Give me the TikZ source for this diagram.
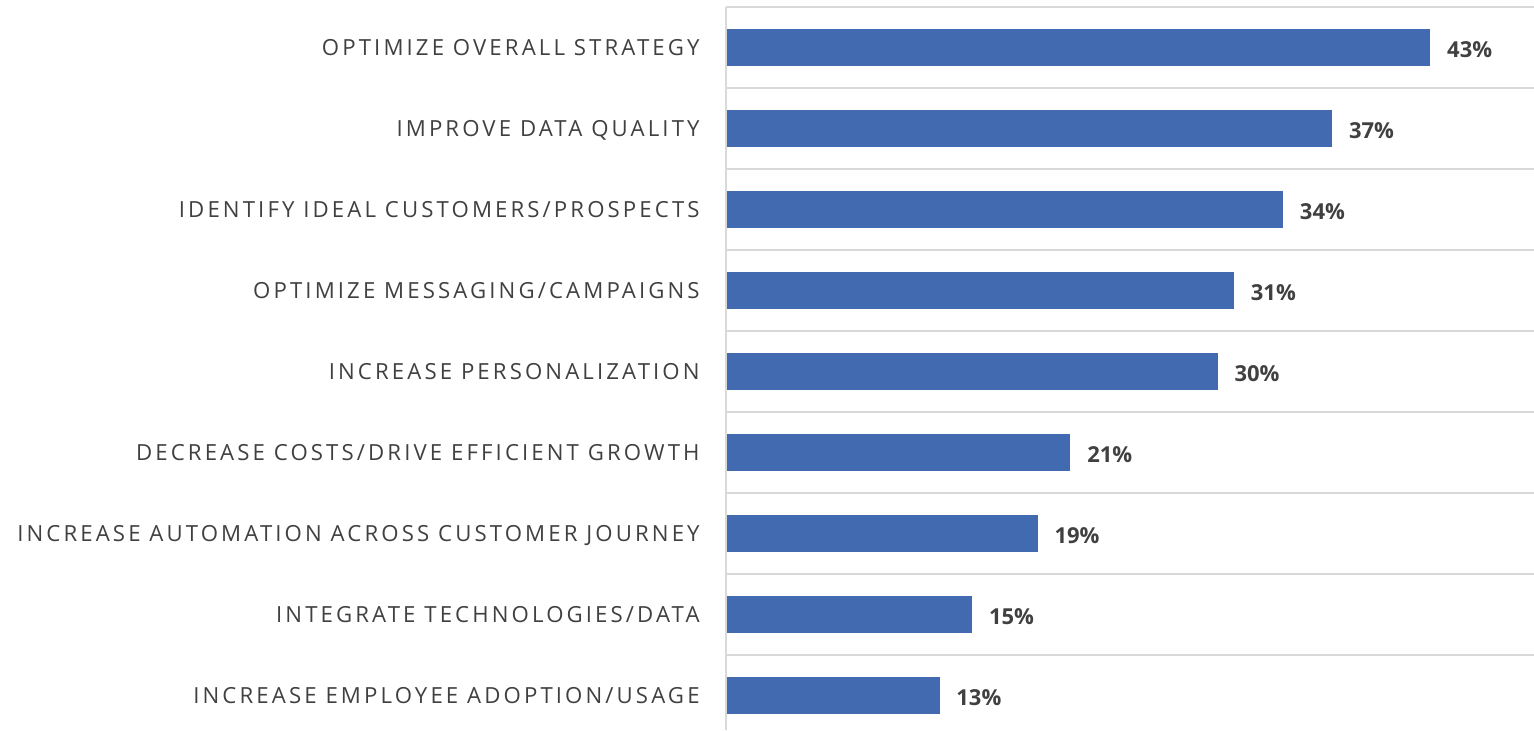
\documentclass[tikz,border=0pt]{standalone}
\usepackage{fontspec}
\setmainfont{Open Sans}
\newfontfamily\catfont[LetterSpace=14]{Open Sans}
\usetikzlibrary{positioning}
\definecolor{barblue}{HTML}{416AB1}
\definecolor{gridgray}{HTML}{D9D9D9}
\definecolor{textgray}{HTML}{404040}
\tikzset{
    bar/.style={fill=barblue, draw=none, anchor=west, minimum height=18.5pt, inner sep=0pt},
    catlabel/.style={anchor=base east, text=textgray, inner sep=0pt,
        font=\catfont\fontsize{11.1}{12}\selectfont},
    vallabel/.style={text=textgray, inner sep=0pt, text height=8pt, text depth=0pt,
        font=\bfseries\fontsize{11}{12}\selectfont},
}
\begin{document}
\begin{tikzpicture}[x=0.5pt,y=-0.5pt]
    \useasboundingbox (0,0) rectangle (1534,730);
    \foreach \k in {0,...,8} {
        \draw[gridgray, line width=1pt] (726,7+81*\k) -- (1534,7+81*\k);
    }
    \draw[gridgray, line width=1pt] (726,7) -- (726,730);
    \foreach \v/\txt [count=\i] in {43/{OPTIMIZE OVERALL STRATEGY},
            37/{IMPROVE DATA QUALITY},
            34/{IDENTIFY IDEAL CUSTOMERS/PROSPECTS},
            31/{OPTIMIZE MESSAGING/CAMPAIGNS},
            30/{INCREASE PERSONALIZATION},
            21/{DECREASE COSTS/DRIVE EFFICIENT GROWTH},
            19/{INCREASE AUTOMATION ACROSS CUSTOMER JOURNEY},
            15/{INTEGRATE TECHNOLOGIES/DATA},
            13/{INCREASE EMPLOYEE ADOPTION/USAGE}} {
        \node[bar, minimum width=\v*8.18pt] (bar\i) at (726.5,47.5+81*\i-81) {};
        \node[vallabel, right=8pt of bar\i, yshift=-1pt] (val\i) {\v\%};
        \node[catlabel] (lbl\i) at (700,55.5+81*\i-81) {\txt};
    }
\end{tikzpicture}
\end{document}
